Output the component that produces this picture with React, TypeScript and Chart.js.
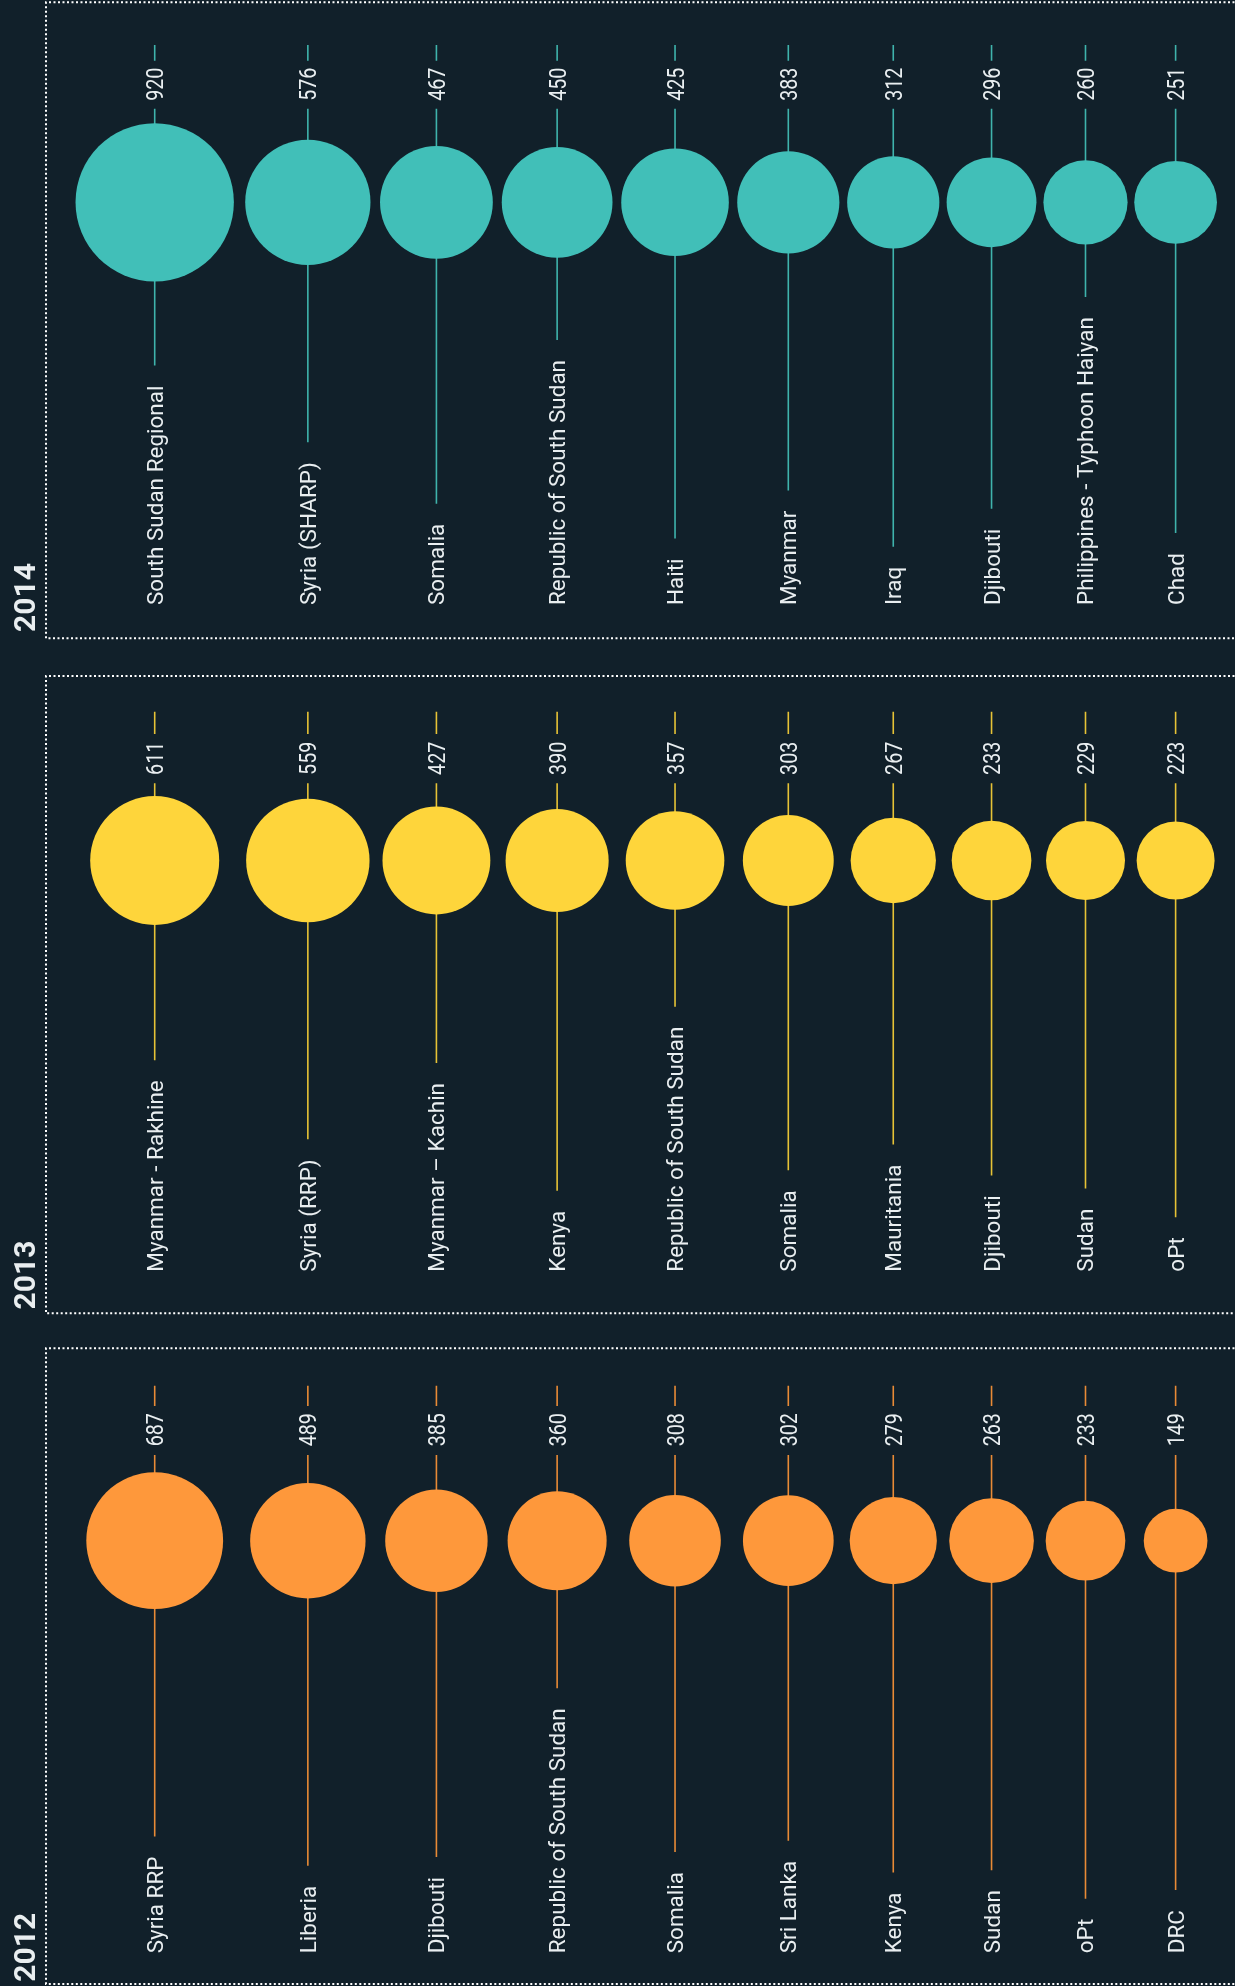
import React, { useEffect, useRef } from "react";
import { Chart, registerables } from "chart.js";

Chart.register(...registerables);

// ---------- DATA ----------
const years = ["2014", "2013", "2012"];

const categories2014 = [
  "South Sudan Regional",
  "Syria (SHARP)",
  "Somalia",
  "Republic of South Sudan",
  "Haiti",
  "Myanmar",
  "Iraq",
  "Djibouti",
  "Philippines - Typhoon Haiyan",
  "Chad",
];
const values2014 = [920, 576, 467, 450, 425, 383, 312, 296, 260, 251];

const categories2013 = [
  "Myanmar - Rakhine",
  "Syria (RRP)",
  "Myanmar – Kachin",
  "Kenya",
  "Republic of South Sudan",
  "Somalia",
  "Mauritania",
  "Djibouti",
  "Sudan",
  "oPt",
];
const values2013 = [611, 559, 427, 390, 357, 303, 267, 233, 229, 223];

const categories2012 = [
  "Syria RRP",
  "Liberia",
  "Djibouti",
  "Republic of South Sudan",
  "Somalia",
  "Sri Lanka",
  "Kenya",
  "Sudan",
  "oPt",
  "DRC",
];
const values2012 = [687, 489, 385, 360, 308, 302, 279, 263, 233, 149];

const seriesCategories = [categories2014, categories2013, categories2012];
const seriesValues = [values2014, values2013, values2012];

// ---------- STYLE / LAYOUT ----------
const W = 1235;
const H = 1986;
const BG = "#11202a";
const TEXT = "#e9eef0";
const FILL_COLORS = ["#41bfb8", "#fed53b", "#fe983b"];
const LINE_COLORS = ["#3fb3ac", "#e6c236", "#e88a36"];
const FONT = "Roboto, 'Open Sans', 'DejaVu Sans', sans-serif";

const RADIUS_PER_SQRT = 2.61; // bubble area proportional to value
const SPACING_FACTOR = 1.08; // distance between columns relative to the sum of their radii
const FIRST_COLUMN = 154.7;
const BORDER_X = 46;
const YEAR_BASELINE_X = 35;
const LABEL_GAP = 20;

const PANELS = [
  { top: 2.3, bottom: 638.3, center: 202.3, tickTop: 45, tickBottom: 60.7, valueY: 84.2, segStart: 108.7, labelStart: 605, yearStart: 632 },
  { top: 676, bottom: 1313.3, center: 860.5, tickTop: 711.7, tickBottom: 734, valueY: 758.3, segStart: 783.3, labelStart: 1271.7, yearStart: 1309.5 },
  { top: 1348.3, bottom: 1984, center: 1540.7, tickTop: 1385.7, tickBottom: 1406, valueY: 1429.7, segStart: 1455, labelStart: 1953.3, yearStart: 1981.7 },
];

const radiusOf = (v: number) => RADIUS_PER_SQRT * Math.sqrt(v);

// column x positions: bubbles packed side by side, using the largest bubble of each column
function columnPositions(): number[] {
  const n = values2014.length;
  const maxR: number[] = [];
  for (let i = 0; i < n; i++) {
    maxR.push(Math.max(...seriesValues.map((s) => radiusOf(s[i]))));
  }
  const xs: number[] = [FIRST_COLUMN];
  for (let i = 1; i < n; i++) xs.push(xs[i - 1] + (maxR[i - 1] + maxR[i]) * SPACING_FACTOR);
  return xs;
}

const decorPlugin = {
  id: "decor",
  beforeDatasetsDraw(chart: any) {
    const ctx: CanvasRenderingContext2D = chart.ctx;
    ctx.save();
    // dotted panel frames
    ctx.strokeStyle = "#ffffff";
    ctx.lineWidth = 2;
    ctx.setLineDash([2, 2.5]);
    PANELS.forEach((p) => {
      ctx.beginPath();
      ctx.moveTo(W + 4, p.top);
      ctx.lineTo(BORDER_X, p.top);
      ctx.lineTo(BORDER_X, p.bottom);
      ctx.lineTo(W + 4, p.bottom);
      ctx.stroke();
    });
    ctx.setLineDash([]);

    // year labels
    ctx.fillStyle = TEXT;
    ctx.font = `bold 30px ${FONT}`;
    ctx.textAlign = "left";
    ctx.textBaseline = "alphabetic";
    PANELS.forEach((p, d) => {
      ctx.save();
      ctx.translate(YEAR_BASELINE_X, p.yearStart);
      ctx.rotate(-Math.PI / 2);
      ctx.fillText(years[d], 0, 0);
      ctx.restore();
    });

    // stems
    ctx.font = `400 22.5px ${FONT}`;
    chart.data.datasets.forEach((ds: any, d: number) => {
      const meta = chart.getDatasetMeta(d);
      const p = PANELS[d];
      ctx.strokeStyle = LINE_COLORS[d];
      ctx.lineWidth = 1.6;
      meta.data.forEach((el: any, i: number) => {
        const x = el.x;
        const w = ctx.measureText(seriesCategories[d][i]).width;
        ctx.beginPath();
        ctx.moveTo(x, p.tickTop);
        ctx.lineTo(x, p.tickBottom);
        ctx.moveTo(x, p.segStart);
        ctx.lineTo(x, p.labelStart - w - LABEL_GAP);
        ctx.stroke();
      });
    });
    ctx.restore();
  },
  afterDatasetsDraw(chart: any) {
    const ctx: CanvasRenderingContext2D = chart.ctx;
    ctx.save();
    ctx.fillStyle = TEXT;
    chart.data.datasets.forEach((ds: any, d: number) => {
      const meta = chart.getDatasetMeta(d);
      const p = PANELS[d];
      meta.data.forEach((el: any, i: number) => {
        const x = el.x;
        // category label
        ctx.save();
        ctx.font = `400 22.5px ${FONT}`;
        ctx.textAlign = "left";
        ctx.textBaseline = "alphabetic";
        ctx.translate(x, p.labelStart);
        ctx.rotate(-Math.PI / 2);
        ctx.fillText(seriesCategories[d][i], 0, 8.0);
        ctx.restore();
        // value label
        ctx.save();
        ctx.font = `400 24px ${FONT}`;
        ctx.textAlign = "center";
        ctx.textBaseline = "alphabetic";
        ctx.translate(x, p.valueY);
        ctx.rotate(-Math.PI / 2);
        ctx.scale(0.82, 1);
        ctx.fillText(String(seriesValues[d][i]), 0, 8.5);
        ctx.restore();
      });
    });
    ctx.restore();
  },
};

export default function App() {
  const ref = useRef<HTMLCanvasElement>(null);

  useEffect(() => {
    document.body.style.margin = "0";
    document.body.style.background = BG;
    const xs = columnPositions();
    const datasets = seriesValues.map((vals, d) => ({
      label: years[d],
      data: vals.map((v, i) => ({ x: xs[i], y: PANELS[d].center, r: radiusOf(v) })),
      backgroundColor: FILL_COLORS[d],
      borderColor: FILL_COLORS[d],
      borderWidth: 0,
      hoverRadius: 0,
      clip: false as any,
    }));
    const chart = new Chart(ref.current as HTMLCanvasElement, {
      type: "bubble",
      data: { datasets },
      options: {
        animation: false,
        responsive: false,
        maintainAspectRatio: false,
        events: [],
        layout: { padding: 0, autoPadding: false },
        plugins: { legend: { display: false }, tooltip: { enabled: false } },
        scales: {
          x: { type: "linear", min: 0, max: W, display: false },
          y: { type: "linear", min: 0, max: H, reverse: true, display: false },
        },
      },
      plugins: [decorPlugin],
    });
    return () => chart.destroy();
  }, []);

  return (
    <div style={{ position: "absolute", left: 0, top: 0, width: W, height: H, background: BG }}>
      <canvas ref={ref} width={W} height={H} style={{ width: W, height: H, display: "block" }} />
    </div>
  );
}
